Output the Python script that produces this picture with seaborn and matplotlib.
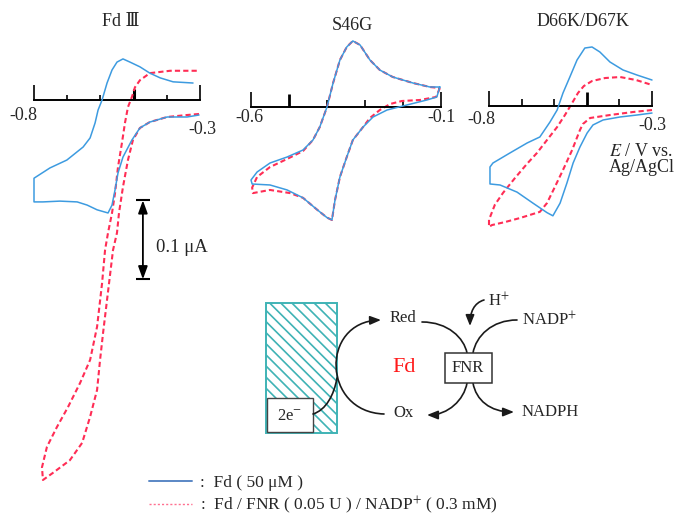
import matplotlib
matplotlib.use("Agg")
import matplotlib.pyplot as plt
import seaborn as sns
from matplotlib.lines import Line2D
from matplotlib.patches import Rectangle, FancyArrowPatch
from matplotlib.path import Path

# ---------------- CV data: E (V vs. Ag/AgCl), I (nA) ----------------
# Fd III : cathodic sweep (-0.3 -> -0.8) then anodic sweep back
FD3_BLUE_E = [-0.303, -0.339, -0.399, -0.451, -0.481, -0.505, -0.532, -0.547, -0.556, -0.565,
              -0.577, -0.610, -0.640, -0.670, -0.722, -0.773, -0.800,
              -0.800, -0.752, -0.701, -0.652, -0.631, -0.616, -0.607, -0.595, -0.580, -0.565,
              -0.550, -0.532, -0.511, -0.481, -0.451, -0.420, -0.381, -0.321]
FD3_BLUE_I = [-19, -21.5, -21.5, -27.9, -35.4, -50.6, -72.2, -92.4, -114, -133,
              -143, -139, -133, -129, -128, -129, -129,
              -99, -86, -76, -59.5, -48, -29, -12.7, 0, 21.5, 38,
              48, 52, 48, 42, 34, 28, 23, 21.5]
FD3_RED_E = [-0.303, -0.339, -0.399, -0.451, -0.481, -0.502, -0.517, -0.532, -0.544, -0.550,
             -0.562, -0.580, -0.592, -0.601, -0.610, -0.631, -0.655, -0.692, -0.743, -0.773,
             -0.776, -0.761, -0.731, -0.698, -0.661, -0.631, -0.610, -0.595, -0.586, -0.577,
             -0.565, -0.556, -0.547, -0.535, -0.526, -0.517, -0.505, -0.496, -0.481, -0.451,
             -0.390, -0.309]
FD3_RED_I = [-17.7, -19, -21.5, -27.9, -35.4, -50.6, -76, -110, -143, -168,
             -190, -253, -295, -329, -367, -401, -434, -456, -472, -481,
             -465, -439, -414, -389, -358, -329, -287, -232, -190, -168,
             -143, -118, -85, -54, -29, -9, 4, 16, 25, 34,
             37, 37]

# S46G : cathodic sweep (-0.1 -> -0.6) then anodic sweep back
S46G_BLUE_E = [-0.103, -0.111, -0.137, -0.190, -0.242, -0.279, -0.305, -0.332, -0.348, -0.366,
               -0.379, -0.387, -0.400, -0.426, -0.463, -0.505, -0.550, -0.597,
               -0.600, -0.584, -0.550, -0.505, -0.463, -0.437, -0.419, -0.400, -0.384, -0.366,
               -0.348, -0.332, -0.313, -0.287, -0.261, -0.227, -0.174, -0.129, -0.103]
S46G_BLUE_I = [25.3, 12.7, 8.9, 2.5, -3.8, -12.7, -25.3, -41.8, -63.3, -88.6,
               -118, -143, -140, -130, -115, -105, -98.7, -97.5,
               -92.4, -82.3, -70.9, -63.3, -54.4, -41.8, -25.3, 0, 30.4, 59.5,
               76, 83.6, 78.5, 59.5, 46.8, 38, 30.4, 25.3, 25.3]
S46G_RED_E = [-0.103, -0.113, -0.155, -0.203, -0.234, -0.261, -0.287, -0.305, -0.332, -0.348,
              -0.366, -0.379, -0.387, -0.400, -0.426, -0.463, -0.497, -0.550, -0.595,
              -0.597, -0.584, -0.550, -0.505, -0.463, -0.437, -0.419, -0.400, -0.384, -0.366,
              -0.348, -0.332, -0.313, -0.287, -0.261, -0.227, -0.174, -0.129, -0.103]
S46G_RED_I = [24, 12.7, 8.9, 7.6, 3.8, -3.8, -13.9, -25.3, -41.8, -63.3,
              -88.6, -118, -143, -140, -130, -115, -109, -105, -109,
              -102, -88.6, -76, -65.8, -55.7, -41.8, -25.3, 0, 30.4, 59.5,
              76, 83.6, 78.5, 59.5, 46.8, 38, 30.4, 25.3, 24]

# D66K/D67K : cathodic sweep (-0.3 -> -0.8) then anodic sweep back
D66K_BLUE_E = [-0.300, -0.346, -0.398, -0.450, -0.481, -0.499, -0.521, -0.542, -0.561, -0.582,
               -0.604, -0.622, -0.665, -0.714, -0.766, -0.797,
               -0.797, -0.788, -0.736, -0.683, -0.644, -0.613, -0.591, -0.573, -0.552, -0.530,
               -0.506, -0.484, -0.460, -0.429, -0.389, -0.346, -0.300]
D66K_BLUE_I = [-8.9, -11.4, -13.9, -17.7, -24, -34.2, -51.9, -72.2, -97.5, -123,
               -139, -135, -123, -109, -100, -98.7,
               -77.2, -72.2, -59.5, -46.8, -39.2, -20.3, -5.1, 16.5, 36.7, 58.2,
               73.4, 74.7, 68.4, 55.7, 45.6, 39.2, 32.9]
D66K_RED_E = [-0.300, -0.358, -0.429, -0.490, -0.512, -0.521, -0.545, -0.573, -0.598, -0.622,
              -0.644, -0.705, -0.751, -0.791, -0.800,
              -0.800, -0.782, -0.757, -0.720, -0.683, -0.653, -0.622, -0.591, -0.567, -0.545,
              -0.527, -0.509, -0.484, -0.444, -0.398, -0.349, -0.300]
D66K_RED_I = [-5.1, -7.6, -11.4, -15.2, -22.8, -30.4, -55.7, -81, -102.5, -122.8,
              -134, -141.8, -146.9, -150.7, -153,
              -144, -125, -110, -91, -73, -59.5, -43, -26.6, -11.4, 3.8,
              16.5, 25.3, 31.6, 35.4, 36.7, 32.9, 26.6]

SCALE_BAR_NA = 100  # 0.1 uA

BLUE = "#3d9be0"
RED = "#ff2d55"
W, H = 677, 515
PX_PER_NA = 0.79

sns.set_theme(style="white")
plt.rcParams["font.family"] = ["Liberation Serif", "DejaVu Serif", "DejaVu Sans"]
plt.rcParams["mathtext.fontset"] = "stix"
plt.rcParams["hatch.linewidth"] = 1.2

fig = plt.figure(figsize=(W / 100, H / 100), dpi=100)

# full-figure layer in pixel units for titles and the scheme
lay = fig.add_axes([0, 0, 1, 1])
lay.set_xlim(0, W)
lay.set_ylim(H, 0)
lay.axis("off")


def cv_axes(box, e_px, e_lim, zero_px, tick_len, tick_w):
    left, right, top, bottom = box
    ax = fig.add_axes([left / W, 1 - bottom / H, (right - left) / W, (bottom - top) / H])
    v_per_px = (e_lim[1] - e_lim[0]) / (e_px[1] - e_px[0])
    ax.set_xlim(e_lim[0] + (left - e_px[0]) * v_per_px, e_lim[0] + (right - e_px[0]) * v_per_px)
    ax.set_ylim((zero_px - bottom) / PX_PER_NA, (zero_px - top) / PX_PER_NA)
    ax.patch.set_visible(False)
    for s in ["top", "left", "right"]:
        ax.spines[s].set_visible(False)
    sp = ax.spines["bottom"]
    sp.set_position(("data", 0))
    sp.set_bounds(*e_lim)
    sp.set_linewidth(1.4)
    sp.set_color("black")
    n = len(tick_len)
    ticks = [e_lim[0] + i * (e_lim[1] - e_lim[0]) / (n - 1) for i in range(n)]
    ax.set_xticks(ticks)
    ax.set_yticks([])
    ax.tick_params(axis="x", direction="in", bottom=True, labelbottom=False, color="black")
    for t, ln, w in zip(ax.xaxis.get_major_ticks(), tick_len, tick_w):
        t.tick1line.set_markersize(ln * 0.72)
        t.tick1line.set_markeredgewidth(w)
    ax.set_xlabel("")
    ax.set_ylabel("")
    return ax


def draw_cv(ax, e_blue, i_blue, e_red, i_red):
    sns.lineplot(x=e_red, y=i_red, sort=False, estimator=None, ax=ax, color=RED, linewidth=1.5, zorder=2)
    ax.lines[-1].set_dashes([2.5, 1.5])
    sns.lineplot(x=e_blue, y=i_blue, sort=False, estimator=None, ax=ax, color=BLUE, linewidth=1.1, zorder=3)


def end_label(ax, text, e, dx, dy):
    ax.annotate(text, xy=(e, 0), xytext=(dx * 0.72, -dy * 0.72), textcoords="offset points",
                ha="center", va="center", fontsize=13)


ax1 = cv_axes((10, 225, 35, 500), (34, 200), (-0.8, -0.3), 100,
              [15, 5, 5, 11, 5, 15], [1.2, 1.2, 1.2, 2.2, 1.2, 1.2])
draw_cv(ax1, FD3_BLUE_E, FD3_BLUE_I, FD3_RED_E, FD3_RED_I)
end_label(ax1, "-0.8", -0.8, -11, 16)
end_label(ax1, "-0.3", -0.3, 2, 30)

# scale bar (0.1 uA)
sb_e, sb_top = -0.472, -127
ax1.annotate("", xy=(sb_e, sb_top), xytext=(sb_e, sb_top - SCALE_BAR_NA),
             arrowprops=dict(arrowstyle="<|-|>,head_length=0.55,head_width=0.2", mutation_scale=14,
                             lw=1.3, color="black", shrinkA=0, shrinkB=0))
ax1.hlines([sb_top, sb_top - SCALE_BAR_NA], sb_e - 0.02, sb_e + 0.02, color="black", lw=1.5)
lay.text(156, 248, "0.1 μA", ha="left", va="center", fontsize=13.5)

ax2 = cv_axes((230, 462, 35, 240), (251, 441), (-0.6, -0.1), 107,
              [15, 13, 7, 7, 7, 15], [1.2, 2.0, 1.2, 1.2, 1.2, 1.2])
draw_cv(ax2, S46G_BLUE_E, S46G_BLUE_I, S46G_RED_E, S46G_RED_I)
end_label(ax2, "-0.6", -0.6, -2, 11)
end_label(ax2, "-0.1", -0.1, 0, 11)

ax3 = cv_axes((462, 677, 35, 240), (489, 652), (-0.8, -0.3), 106,
              [15, 7, 7, 14, 7, 15], [1.2, 1.2, 1.2, 2.0, 1.2, 1.2])
draw_cv(ax3, D66K_BLUE_E, D66K_BLUE_I, D66K_RED_E, D66K_RED_I)
end_label(ax3, "-0.8", -0.8, -8, 13)
end_label(ax3, "-0.3", -0.3, 0, 20)

# titles
lay.text(121, 21, "Fd Ⅲ", ha="center", va="center", fontsize=13)
lay.text(352, 25, "S46G", ha="center", va="center", fontsize=13)
lay.text(583, 22, "D66K/D67K", ha="center", va="center", fontsize=13)
lay.text(641, 151, "$E$ / V vs.", ha="center", va="center", fontsize=13)
lay.text(642, 167, "Ag/AgCl", ha="center", va="center", fontsize=13)

# ---------------- reaction scheme ----------------
lay.add_patch(Rectangle((266, 303), 71, 130, facecolor="white", edgecolor="#3fb3b5",
                        hatch="\\\\\\", lw=1.4, zorder=2))
lay.add_patch(Rectangle((267, 398), 46, 34, facecolor="white", edgecolor="#444444", lw=1.0, zorder=3))
lay.text(290, 416, "2e$^{-}$", ha="center", va="center", fontsize=12, zorder=4)


def curve(pts, arrow):
    path = Path(pts, [Path.MOVETO, Path.CURVE4, Path.CURVE4, Path.CURVE4])
    style = "-|>,head_length=0.5,head_width=0.2" if arrow else "-"
    lay.add_patch(FancyArrowPatch(path=path, arrowstyle=style, mutation_scale=13, lw=1.2,
                                  color="#1a1a1a", zorder=5))


curve([(384, 414), (322, 412), (320, 322), (381, 320)], True)    # electrode: Ox -> Red
curve([(313, 414), (326, 410), (334, 395), (337, 378)], False)   # 2e- feed
curve([(422, 322), (448, 322), (464, 338), (467, 353)], False)   # Red -> FNR
curve([(467, 383), (464, 400), (448, 415), (427, 415)], True)    # FNR -> Ox
curve([(517, 320), (492, 320), (476, 336), (473, 353)], False)   # NADP+ -> FNR
curve([(473, 383), (476, 400), (490, 412), (514, 412)], True)    # FNR -> NADPH
curve([(484, 300), (474, 303), (470, 312), (470, 326)], True)    # H+

lay.add_patch(Rectangle((445, 353), 47, 30, facecolor="white", edgecolor="#333333", lw=1.1, zorder=6))
lay.text(468, 368, "FNR", ha="center", va="center", fontsize=12, zorder=7)
lay.text(403, 318, "Red", ha="center", va="center", fontsize=12)
lay.text(403, 413, "Ox", ha="center", va="center", fontsize=12)
lay.text(404, 368, "Fd", ha="center", va="center", fontsize=16, color="#ff1a1a")
lay.text(499, 301, "H$^{+}$", ha="center", va="center", fontsize=12)
lay.text(522, 320, "NADP$^{+}$", ha="left", va="center", fontsize=12)
lay.text(522, 412, "NADPH", ha="left", va="center", fontsize=12)

# ---------------- legend ----------------
handles = [Line2D([], [], color="#5a87c5", lw=1.4),
           Line2D([], [], color="#ff7090", lw=1.0, ls=(0, (1.5, 1.5)))]
labels = [":  Fd ( 50 μM )", ":  Fd / FNR ( 0.05 U ) / NADP$^{+}$ ( 0.3 mM)"]
lay.legend(handles, labels, loc="upper left", bbox_to_anchor=(149, 475), bbox_transform=lay.transData,
           frameon=False, fontsize=12.5, handlelength=2.5, handletextpad=0.45, labelspacing=0.2,
           borderpad=0, borderaxespad=0)

fig.savefig("out.png", dpi=100)
